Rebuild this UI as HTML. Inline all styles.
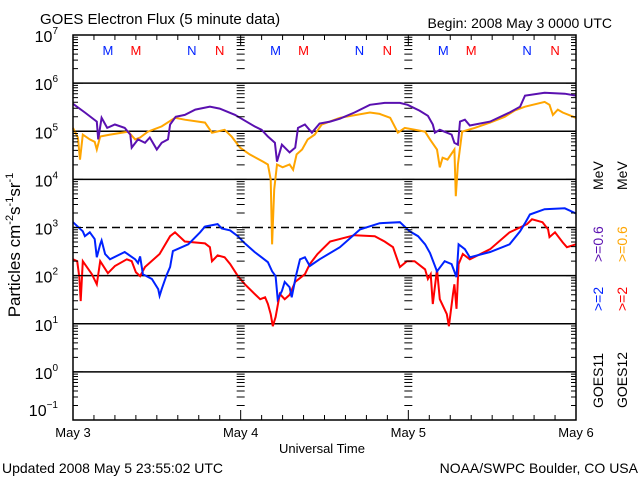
<!DOCTYPE html>
<html><head><meta charset="utf-8"><style>
html,body{margin:0;padding:0;background:#fff;}
svg{display:block;font-family:"Liberation Sans",sans-serif;}
</style></head><body>
<svg id="chart" width="640" height="480" viewBox="0 0 640 480" xmlns="http://www.w3.org/2000/svg">
<rect x="0" y="0" width="640" height="480" fill="#fff"/>
<text x="40" y="24" font-size="15">GOES Electron Flux (5 minute data)</text>
<text x="612" y="28" font-size="14" text-anchor="end">Begin: 2008 May 3 0000 UTC</text>
<text x="322" y="453" font-size="13" text-anchor="middle">Universal Time</text>
<text x="2" y="473" font-size="14">Updated 2008 May  5 23:55:02 UTC</text>
<text x="638" y="473" font-size="14" text-anchor="end">NOAA/SWPC Boulder, CO USA</text>
<text transform="translate(20,245) rotate(-90)" font-size="17" text-anchor="middle">Particles cm<tspan font-size="11" dy="-7">-2</tspan><tspan dy="7">s</tspan><tspan font-size="11" dy="-7">-1</tspan><tspan dy="7">sr</tspan><tspan font-size="11" dy="-7">-1</tspan></text>
<g transform="translate(603,408) rotate(-90)" font-size="14">
<text x="0" y="0">GOES11</text>
<text x="97" y="0" fill="#0022ff">&gt;=2</text>
<text x="146" y="0" fill="#5a10b0">&gt;=0.6</text>
<text x="218" y="0">MeV</text>
</g>
<g transform="translate(627,408) rotate(-90)" font-size="14">
<text x="0" y="0">GOES12</text>
<text x="97" y="0" fill="#ff0000">&gt;=2</text>
<text x="146" y="0" fill="#ffa500">&gt;=0.6</text>
<text x="218" y="0">MeV</text>
</g>
<g id="grid"></g><g id="series"></g><g id="axes"></g>
</svg>
<script>
const dayLabels = ["May 3","May 4","May 5","May 6"];
const yExponents = [7,6,5,4,3,2,1,0,-1];
const markerLabels = ["M","M","N","N"];
const markerHours = [5,9,17,21];

const purpleHours = [0,1.7,3.4,3.6,4.1,4.9,6.0,7.4,8.2,8.4,9.3,10.3,11.0,12.0,12.7,13.6,13.9,14.7,16.0,17.5,19.6,21.0,23.2,24.6,26.0,27.0,27.9,28.9,29.2,29.9,31.0,31.8,32.2,33.2,34.2,35.3,36.8,38.2,40.3,42.5,44.6,46.8,47.9,49.6,50.8,51.5,51.8,52.5,54.2,54.6,55.1,55.4,56.1,56.8,59.7,62.5,64.0,64.7,67.5,70.4,72];
const purpleLog10 = [5.57,5.39,5.20,4.83,5.28,5.07,5.14,5.07,4.93,4.66,4.83,4.76,4.87,4.62,4.76,4.83,5.14,5.30,5.34,5.45,5.51,5.47,5.34,5.22,5.10,5.03,4.89,4.76,4.37,4.72,4.56,4.66,5.07,5.14,4.97,5.16,5.20,5.26,5.39,5.55,5.59,5.59,5.55,5.43,5.32,5.14,4.97,5.03,4.93,4.76,4.72,5.20,5.24,5.12,5.20,5.39,5.51,5.74,5.80,5.78,5.74];

const orangeHours = [0,0.7,1.0,1.4,2.4,3.1,3.4,3.9,5.3,7.9,8.9,9.6,10.7,12.7,14.6,16.0,18.9,19.9,21.7,22.7,23.9,25.3,27.2,27.9,28.3,28.5,28.8,29.2,30.0,31.0,31.5,32.0,32.8,33.6,34.6,35.6,38.2,42.5,43.9,45.4,46.5,47.5,50.4,51.1,52.1,52.5,52.9,53.6,54.6,54.8,55.1,55.7,57.5,59.7,61.8,63.2,64.7,67.5,68.2,68.7,69.4,70.1,72];
const orangeLog10 = [5.07,4.87,4.41,4.93,4.83,4.78,4.62,4.89,4.93,4.99,4.83,4.87,4.99,5.10,5.28,5.24,5.18,4.97,5.03,4.89,4.66,4.52,4.37,4.31,4.00,2.65,3.79,4.31,4.25,4.31,4.20,4.52,4.62,4.83,4.93,5.14,5.28,5.39,5.36,5.28,4.97,5.07,4.99,4.83,4.62,4.25,4.45,4.41,4.62,3.65,4.31,4.99,5.07,5.18,5.30,5.43,5.51,5.61,5.55,5.34,5.45,5.39,5.28];

const blueHours = [0,1.4,1.7,2.4,3.1,3.4,3.9,4.1,4.6,5.3,7.4,8.9,9.3,9.6,10.0,11.3,12.2,12.4,12.7,13.4,13.9,14.3,16.5,18.2,18.9,20.7,21.3,22.5,23.6,24.6,26.0,27.0,27.9,28.5,29.0,29.3,29.9,30.3,31.0,31.3,31.9,32.5,33.2,33.9,35.3,38.2,41.1,43.9,46.8,48.2,49.4,50.4,51.1,52.1,53.2,54.2,54.9,55.2,56.1,56.8,59.7,62.5,64.0,64.7,65.4,67.5,70.4,72];
const blueLog10 = [3.11,2.92,2.82,2.90,2.76,2.38,2.65,2.73,2.45,2.34,2.49,2.34,2.26,2.40,2.03,1.93,1.72,1.58,1.72,2.01,2.18,2.51,2.65,2.90,3.02,3.07,2.98,2.94,2.82,2.67,2.49,2.38,2.28,2.09,1.99,1.51,1.68,1.87,1.76,1.55,1.99,2.34,2.38,2.20,2.34,2.59,2.96,3.09,3.11,2.92,2.82,2.65,2.47,2.09,2.30,2.24,1.97,2.65,2.55,2.38,2.49,2.65,2.92,3.09,3.27,3.38,3.40,3.29];

const redHours = [0,0.6,0.9,1.1,1.4,2.7,3.4,3.9,5.0,6.0,7.7,8.4,9.0,9.6,10.3,12.4,13.9,14.6,16.0,18.9,19.6,19.9,20.7,21.7,22.5,23.6,24.6,26.0,26.8,27.5,27.9,28.3,28.6,29.0,29.6,30.3,31.0,31.8,33.2,33.9,35.0,36.8,40.3,43.2,44.6,45.8,46.8,47.8,48.9,50.4,50.8,51.2,51.5,52.1,52.5,53.5,53.8,54.4,54.6,54.9,55.2,55.8,56.8,59.7,62.5,65.0,65.7,67.2,68.0,68.2,69.0,70.1,70.7,72];
const redLog10 = [2.34,2.30,1.97,1.47,2.30,2.03,1.82,2.30,2.05,2.20,2.34,2.30,2.07,1.99,2.18,2.45,2.82,2.90,2.71,2.67,2.59,2.30,2.42,2.38,2.24,1.99,1.82,1.62,1.51,1.55,1.41,1.20,0.95,1.14,1.62,1.51,1.60,1.87,2.03,2.24,2.45,2.71,2.84,2.82,2.71,2.59,2.18,2.30,2.30,2.13,1.93,2.03,1.41,2.13,1.51,1.20,0.95,1.62,1.82,1.31,2.24,2.45,2.34,2.55,2.90,3.07,3.17,3.11,2.96,2.80,2.90,2.69,2.59,2.65];

const NS = "http://www.w3.org/2000/svg";
const X0 = 73, X1 = 576, YTOP = 35, YBOT = 420;
function xScale(h){ return X0 + h/72*(X1-X0); }
function yScale(l){ return YTOP + (7-l)/8*(YBOT-YTOP); }
function mk(tag, attrs, parent){ const e = document.createElementNS(NS, tag); for (const k in attrs) e.setAttribute(k, attrs[k]); parent.appendChild(e); return e; }

const grid = document.getElementById('grid');
const axes = document.getElementById('axes');
const series = document.getElementById('series');

// grid lines
for (let e = 6; e >= 0; e--) {
  const y = yScale(e);
  const ln = mk('line', {x1:X0, x2:X1, y1:y, y2:y, stroke:'#000', 'stroke-width':1.5}, grid);
  if (e === 3) ln.setAttribute('stroke-dasharray','8,5');
  
  
}
// frame
const frame = mk('rect', {x:X0, y:YTOP, width:X1-X0, height:YBOT-YTOP, fill:'none', stroke:'#000', 'stroke-width':1.5}, axes);



// log ticks on y
let tickPath = '';
for (let e = -1; e < 7; e++) {
  for (let m = 1; m < 10; m++) {
    const y = yScale(e + Math.log10(m));
    const len = m === 1 ? 10 : 5;
    tickPath += `M${X0},${y}h${len}M${X1},${y}h${-len}`;
    const dl = m === 1 ? 6 : 4;
    [1,2].forEach(d => { const x = xScale(d*24); tickPath += `M${x-dl},${y}h${2*dl}`; });
  }
}
// x ticks every 3 hours
for (let h = 3; h < 72; h += 3) {
  const x = xScale(h);
  const len = h % 24 === 0 ? 10 : 5;
  tickPath += `M${x},${YBOT}v${-len}M${x},${YTOP}v${len}`;
}
const ticks = mk('path', {d:tickPath, stroke:'#000', 'stroke-width':1, fill:'none'}, axes);



// y tick labels
yExponents.forEach(e => {
  const y = yScale(e) + (e === -1 ? -4 : 7);
  const t = mk('text', {x:58, y:y, 'font-size':16, 'text-anchor':'end'}, axes);
  t.textContent = '10';
  const s = mk('tspan', {'font-size':10, dy:-8}, t);
  s.textContent = e < 0 ? '\u2212' + Math.abs(e) : String(e);
  
  
});
// x tick labels
dayLabels.forEach((d, i) => {
  const t = mk('text', {x:xScale(i*24), y:437, 'font-size':13, 'text-anchor':'middle'}, axes);
  t.textContent = d;
  
  
});
// M/N markers
for (let day = 0; day < 3; day++) {
  markerLabels.forEach((lab, i) => {
    const t = mk('text', {x:xScale(day*24 + markerHours[i]), y:55, 'font-size':13, 'text-anchor':'middle', fill: i % 2 === 0 ? '#0022ff' : '#ff0000'}, axes);
    t.textContent = lab;
    
    
  });
}
// series
function drawSeries(hours, vals, color, name) {
  const pts = hours.map((h, i) => xScale(h).toFixed(1) + ',' + yScale(vals[i]).toFixed(1)).join(' ');
  const p = mk('polyline', {points:pts, fill:'none', stroke:color, 'stroke-width':2, 'stroke-linejoin':'miter'}, series);
  
  
}
drawSeries(orangeHours, orangeLog10, '#ffa500', 'series-goes12-0.6mev');
drawSeries(purpleHours, purpleLog10, '#5a10b0', 'series-goes11-0.6mev');
drawSeries(redHours, redLog10, '#ff0000', 'series-goes12-2mev');
drawSeries(blueHours, blueLog10, '#0022ff', 'series-goes11-2mev');
</script>
</body></html>
